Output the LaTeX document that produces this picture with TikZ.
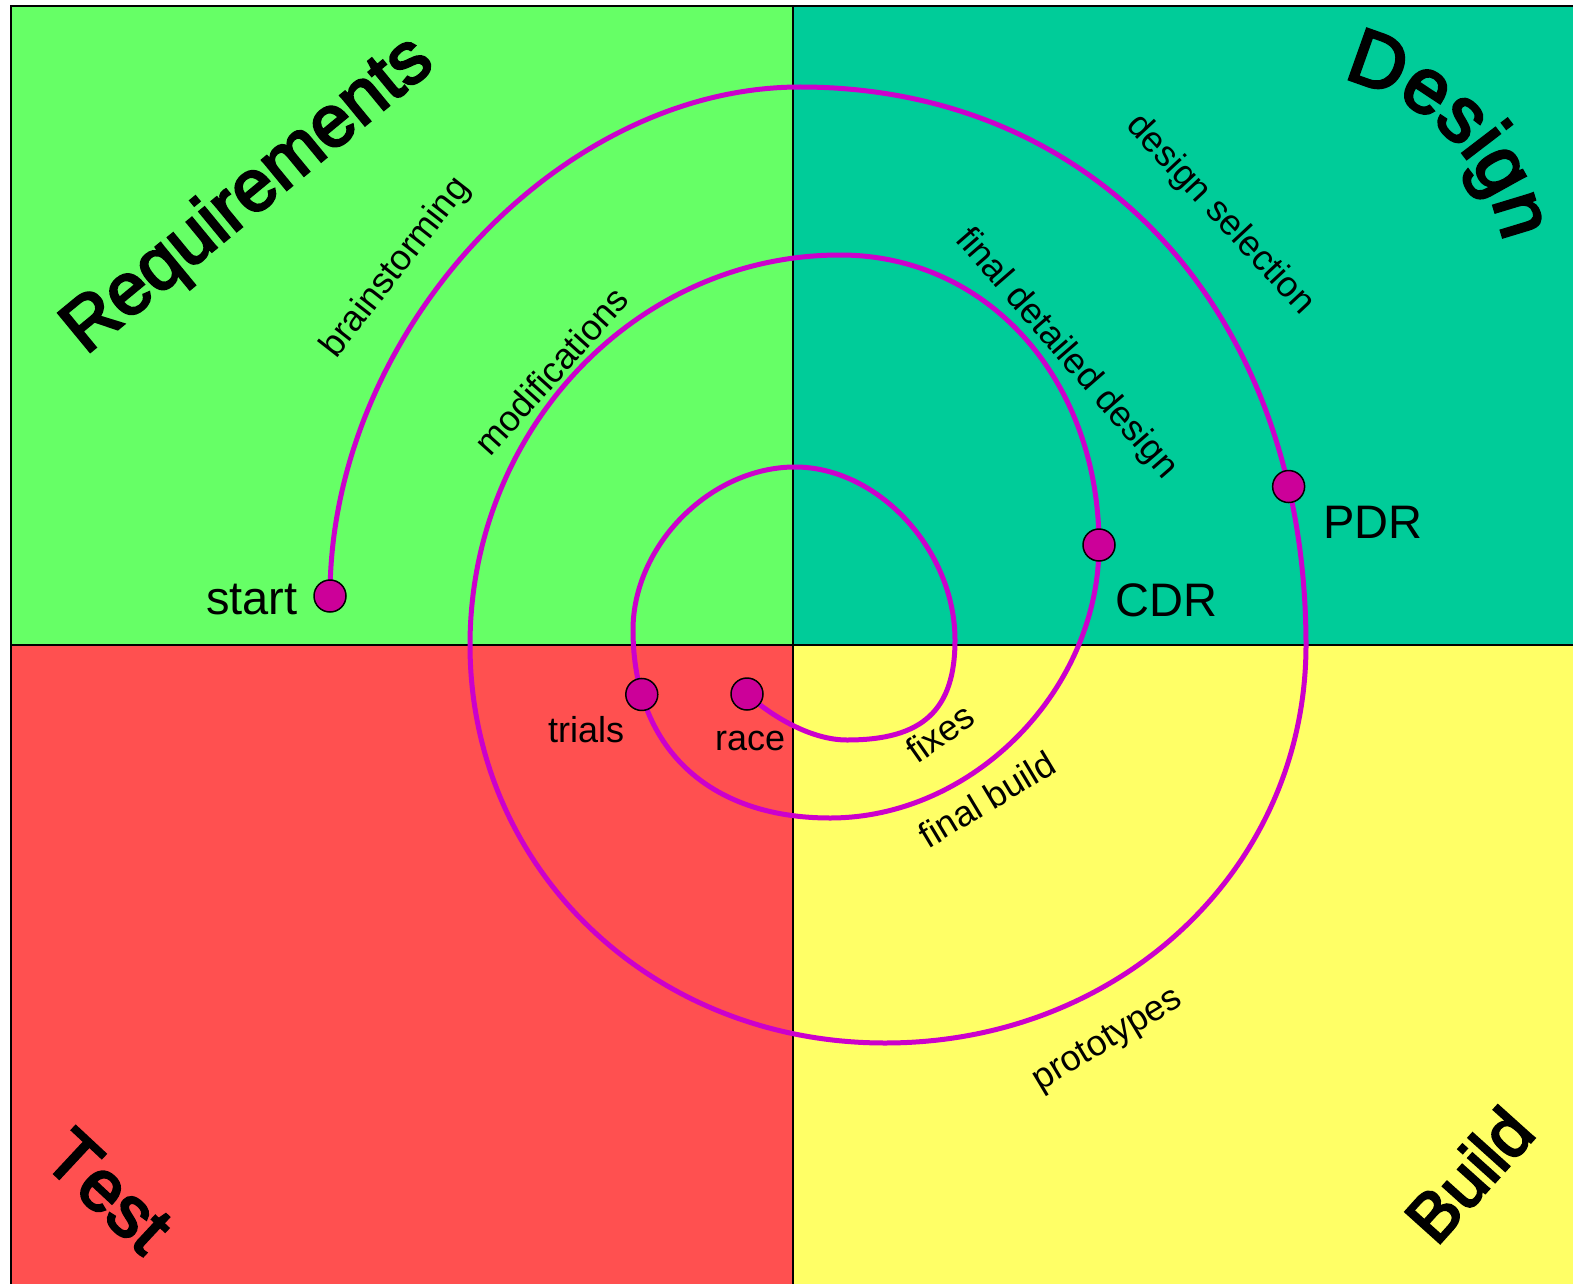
\documentclass[tikz,border=0pt]{standalone}
\usepackage{fontspec}
\setmainfont{Liberation Sans}
\newfontfamily\heavyfont{Liberation Sans}[FakeBold=3.5]
\usetikzlibrary{decorations.text}
\definecolor{reqgreen}{HTML}{66FF66}
\definecolor{desteal}{HTML}{00CC99}
\definecolor{testred}{HTML}{FF5050}
\definecolor{buildyellow}{HTML}{FFFF66}
\definecolor{spiralc}{HTML}{CC00CC}
\definecolor{dotfill}{HTML}{CC0099}
\tikzset{
  dotnode/.style={circle, draw=black, line width=1.5pt, fill=dotfill, minimum size=32pt, inner sep=0pt},
  spiralline/.style={draw=spiralc, line width=5pt},
  lab/.style={font=\fontsize{36}{40}\selectfont, inner sep=0pt},
  biglab/.style={font=\fontsize{47}{50}\selectfont, inner sep=0pt},
  quadline/.style={line width=2pt, draw=black},
}
\begin{document}
\begin{tikzpicture}[x=1pt,y=-1pt]
\useasboundingbox (0,0) rectangle (1573,1284);
\fill[white] (0,0) rectangle (1573,1284);
% quadrants
\fill[reqgreen] (11,6) rectangle (793,645);
\fill[desteal] (793,6) rectangle (1580,645);
\fill[testred] (11,645) rectangle (793,1290);
\fill[buildyellow] (793,645) rectangle (1580,1290);
\draw[quadline] (11,1290) -- (11,6) -- (1580,6);
\draw[quadline] (793,6) -- (793,1290);
\draw[quadline] (11,645) -- (1580,645);
% spiral with milestone dots
\draw[spiralline]
 (330,596) node[dotnode] (start) {}
 .. controls (330,334) and (558,87) .. (800,87)
 .. controls (1099,87) and (1306,316) .. node[dotnode, pos=0.83] (pdr) {} (1306,645)
 .. controls (1306,868) and (1121,1043) .. (885,1043)
 .. controls (651,1043) and (470,868) .. (470,645)
 .. controls (470,430) and (636,255) .. (840,255)
 .. controls (988,255) and (1099,380) .. (1099,545) node[dotnode] (cdr) {}
 .. controls (1099,690) and (973,818) .. (830,818)
 .. controls (708,818) and (633,747) .. node[dotnode, pos=0.8] (trials) {} (633,630)
 .. controls (633,545) and (711,467) .. (795,467)
 .. controls (878,467) and (955,550) .. (955,640)
 .. controls (955,710) and (923,740) .. (847,740)
 .. controls (810,740) and (770,715) .. (747,694) node[dotnode] (race) {};
% milestone labels
\node[biglab, anchor=base west] (startlab) at (206,614) {start};
\node[biglab, anchor=base west] (pdrlab) at (1323,538) {PDR};
\node[biglab, anchor=base west] (cdrlab) at (1115,616) {CDR};
\node[lab, anchor=base west] (triallab) at (548,742) {trials};
\node[lab, anchor=base west] (racelab) at (715,750) {race};
% phase labels along the spiral
\node[lab, rotate=52] (brain) at (396,268) {brainstorming};
\node[lab, rotate=48] (modif) at (551,371) {modifications};
\node[lab, rotate=-47] (dsel) at (1220,215) {design selection};
\node[lab, rotate=-49] (fdd) at (1066,354) {final detailed design};
\node[lab, rotate=35] (fixes) at (940,733) {fixes};
\node[lab, rotate=31] (fbuild) at (987,799) {final build};
\node[lab, rotate=31] (proto) at (1108,1041) {prototypes};
% big quadrant titles
\path[decorate, decoration={text along path, text align=center,
  text={|\heavyfont\fontsize{73}{73}\selectfont|Requirements}}]
  (22,408) -- (500,14);
\path[decorate, decoration={text along path, text align=center,
  text={|\heavyfont\fontsize{78}{78}\selectfont|Design}}]
  (1284.5,75.7) .. controls (1412.1,65.4) and (1518.1,173) .. (1506.1,300.4);
\path[decorate, decoration={text along path, text align=center,
  text={|\heavyfont\fontsize{72}{72}\selectfont|Test}}]
  (-54,1073) -- (238,1345);
\path[decorate, decoration={text along path, text align=center,
  text={|\heavyfont\fontsize{68}{68}\selectfont|Build}}]
  (1353,1340) -- (1621,1042);
\end{tikzpicture}
\end{document}
